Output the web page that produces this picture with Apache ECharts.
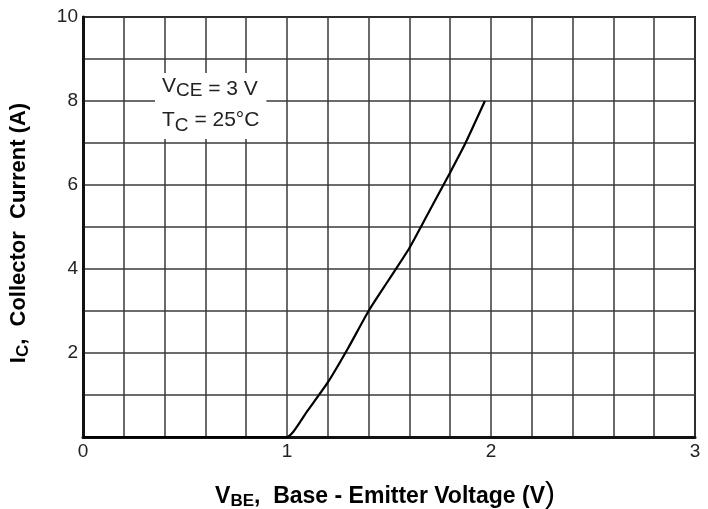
<!DOCTYPE html>
<html>
<head>
    <meta charset="utf-8" />
    <style>
        html, body {
        margin: 0;
        padding: 0;
        background-color: #fff;
        }
    </style>
    <script src="https://cdn.jsdelivr.net/npm/echarts@6/dist/echarts.min.js"></script>
</head>
<body>
    <div id="main" style="width: 708px; height: 509px;"></div>

    <script type="text/javascript">
        // VBE (V) and IC (A)
        var vbe = [0, 0.5, 1.0, 1.03, 1.07, 1.1, 1.2, 1.3, 1.4, 1.5, 1.6, 1.7, 1.8, 1.87, 1.97];
        var ic = [0, 0, 0, 0.12, 0.4, 0.62, 1.3, 2.12, 3.0, 3.75, 4.5, 5.4, 6.3, 6.95, 8.0];
        var xTicks = [0, 1, 2, 3];
        var yTicks = [2, 4, 6, 8, 10];

        var font = '"Liberation Sans", Arial, sans-serif';
        var gridColor = '#3a3a3a';

        var points = [];
        for (var i = 0; i < vbe.length; i++) {
            points.push([vbe[i], ic[i]]);
        }

        var myChart = echarts.init(document.getElementById('main'));
        var options = {
            animation: false,
            backgroundColor: '#fff',
            grid: {
                left: 83,
                right: 13,
                top: 17,
                bottom: 72,
                containLabel: false,
                outerBoundsMode: 'none',
                show: true,
                borderColor: '#111',
                borderWidth: 2
            },
            xAxis: {
                type: 'value',
                min: 0,
                max: 3,
                interval: 1,
                axisLine: { show: true, onZero: false, lineStyle: { color: '#111', width: 3 } },
                axisTick: { show: false },
                axisLabel: {
                    color: '#222',
                    fontFamily: font,
                    fontSize: 19,
                    margin: 5,
                    formatter: function (v) {
                        return xTicks.indexOf(v) >= 0 ? String(v) : '';
                    }
                },
                splitLine: { show: true, lineStyle: { color: gridColor, width: 1.5 } },
                minorTick: { show: false, splitNumber: 5 },
                minorSplitLine: { show: true, lineStyle: { color: gridColor, width: 1.5 } },
                name: '{b|V}{bs|BE}{b|,  Base - Emitter Voltage (V}{bp|)}',
                nameLocation: 'middle',
                nameGap: 43,
                nameTextStyle: {
                    padding: [0, 8, 0, 0],
                    rich: {
                        b: { fontFamily: font, fontWeight: 'bold', fontSize: 23, color: '#000' },
                        bs: { fontFamily: font, fontWeight: 'bold', fontSize: 17, color: '#000', padding: [10, 0, 0, 0] },
                        bp: { fontFamily: font, fontSize: 30, color: '#000', padding: [0, 0, 3, 0] }
                    }
                }
            },
            yAxis: {
                type: 'value',
                min: 0,
                max: 10,
                interval: 1,
                axisLine: { show: true, lineStyle: { color: '#111', width: 3 } },
                axisTick: { show: false },
                axisLabel: {
                    color: '#222',
                    fontFamily: font,
                    fontSize: 19,
                    margin: 5,
                    formatter: function (v) {
                        return yTicks.indexOf(v) >= 0 ? String(v) : '';
                    }
                },
                splitLine: { show: true, lineStyle: { color: gridColor, width: 1.5 } },
                name: '{b|I}{bs|C}{b|,  Collector  Current (A)}',
                nameLocation: 'middle',
                nameGap: 51,
                nameTextStyle: {
                    padding: [0, 12, 0, 0],
                    rich: {
                        b: { fontFamily: font, fontWeight: 'bold', fontSize: 22, color: '#000' },
                        bs: { fontFamily: font, fontWeight: 'bold', fontSize: 17, color: '#000', padding: [10, 0, 0, 0] }
                    }
                }
            },
            graphic: [{
                type: 'text',
                left: 155,
                top: 73,
                z: 10,
                style: {
                    text: '{v|V}{s|CE}{t| = 3 V}\n{t|T}{s2|C}{t| = 25°C}',
                    backgroundColor: '#fff',
                    padding: [1, 7, 3, 7],
                    rich: {
                        v: { fontFamily: font, fontSize: 21, fill: '#222', padding: [0, 0, 7, 0], lineHeight: 31 },
                        t: { fontFamily: font, fontSize: 21, fill: '#222', lineHeight: 31 },
                        s: { fontFamily: font, fontSize: 19, fill: '#222', padding: [3, 0, 0, 0], lineHeight: 31 },
                        s2: { fontFamily: font, fontSize: 19, fill: '#222', padding: [10, 0, 0, 0], lineHeight: 31 }
                    }
                }
            }],
            series: [{
                type: 'line',
                data: points,
                showSymbol: false,
                smooth: 0.2,
                z: 5,
                lineStyle: { color: '#000', width: 2.2 }
            }]
        };
        myChart.setOption(options);
    </script>
</body>
</html>
